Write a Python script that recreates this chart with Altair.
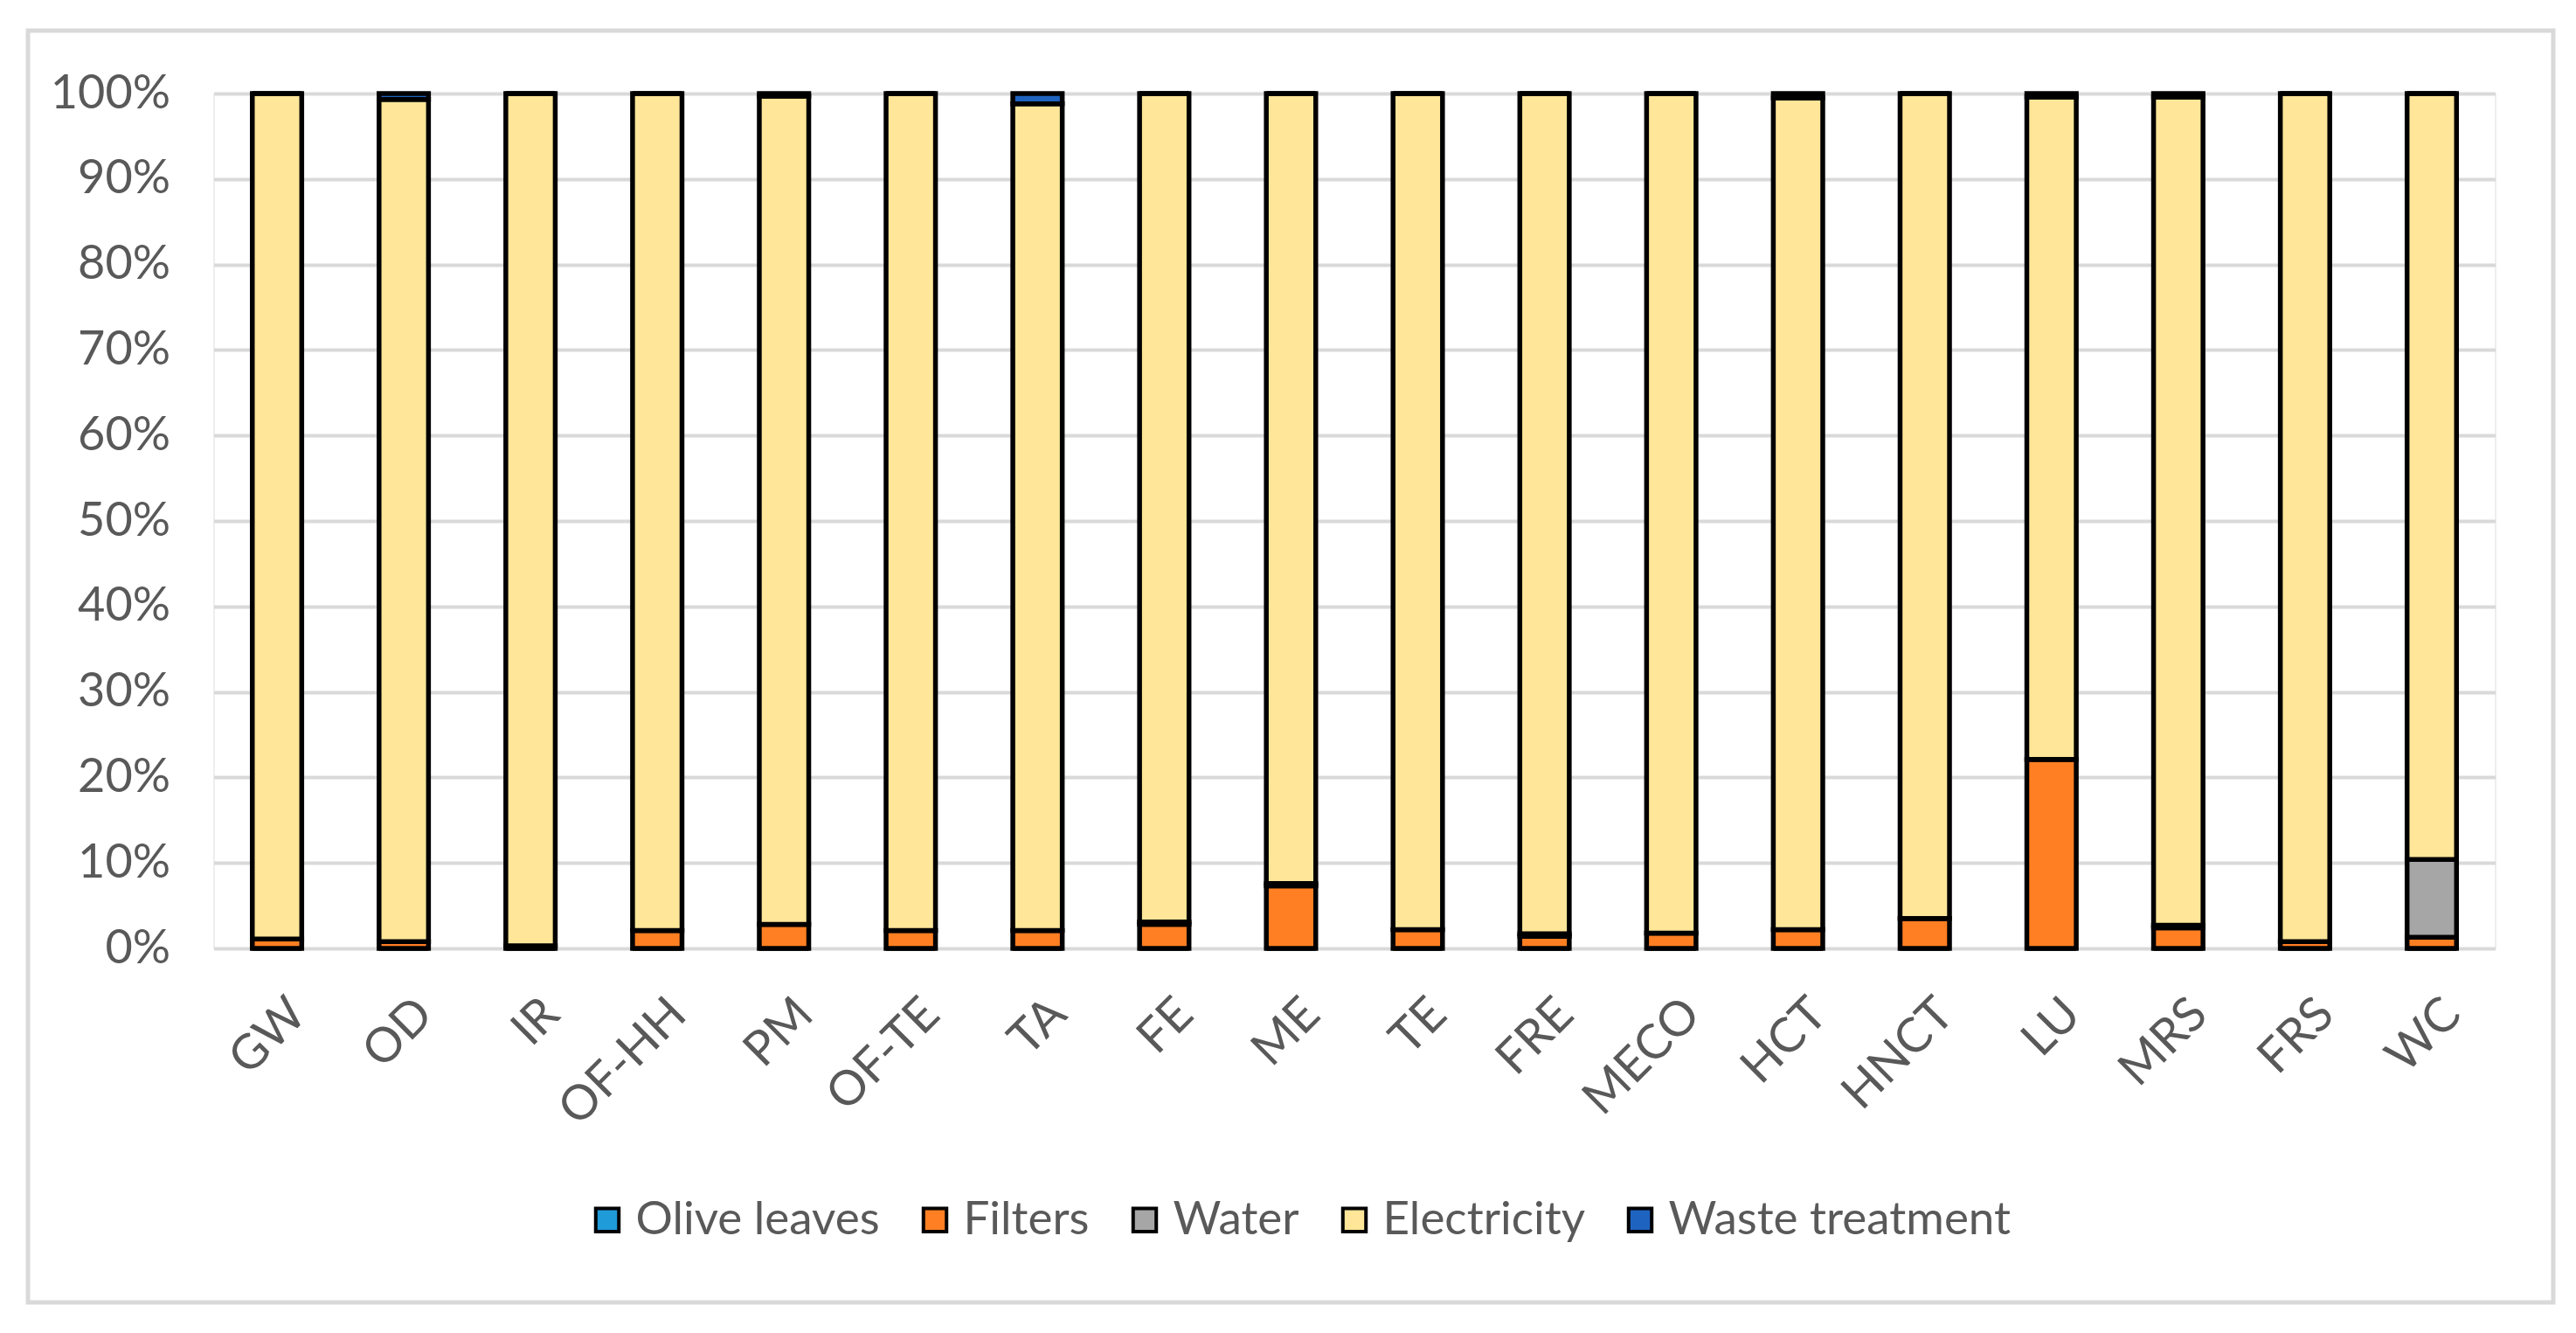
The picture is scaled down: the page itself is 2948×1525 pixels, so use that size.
import altair as alt
import pandas as pd

categories = ["GW", "OD", "IR", "OF-HH", "PM", "OF-TE", "TA", "FE", "ME",
              "TE", "FRE", "MECO", "HCT", "HNCT", "LU", "MRS", "FRS", "WC"]
series = ["Olive leaves", "Filters", "Water", "Electricity", "Waste treatment"]
colors = ["#1F9BD9", "#FF7F22", "#A6A6A6", "#FFE699", "#1F63C0"]

# shares in percent
olive_leaves = [0, 0, 0, 0, 0, 0, 0, 0, 0, 0, 0, 0, 0, 0, 0, 0, 0, 0]
filters = [1.1, 0.8, 0.3, 2.1, 2.8, 2.1, 2.1, 2.8, 7.3, 2.2, 1.4, 1.8, 2.2, 3.5, 22.1, 2.4, 0.8, 1.3]
water = [0, 0, 0, 0, 0, 0, 0, 0.3, 0.3, 0, 0.3, 0, 0, 0, 0, 0.3, 0, 9.1]
electricity = [98.9, 98.5, 99.7, 97.9, 96.9, 97.9, 96.7, 96.9, 92.4, 97.8, 98.3, 98.2, 97.3, 96.5, 77.5, 96.9, 99.2, 89.6]
waste_treatment = [0, 0.7, 0, 0, 0.3, 0, 1.2, 0, 0, 0, 0, 0, 0.5, 0, 0.4, 0.4, 0, 0]

values = [olive_leaves, filters, water, electricity, waste_treatment]
rows = []
for si, (name, vals) in enumerate(zip(series, values)):
    for c, v in zip(categories, vals):
        rows.append({"category": c, "series": name, "order": si, "share": v / 100.0})
df = pd.DataFrame(rows)

FONT = "Lato, sans-serif"
W, H = 2611, 978

bars = alt.Chart(df).mark_bar(stroke="black", strokeWidth=5.5).encode(
    x=alt.X("category:N", sort=categories, title=None,
            scale=alt.Scale(paddingInner=0.61, paddingOuter=0.305),
            axis=alt.Axis(labelAngle=-45, labelAlign="right", labelBaseline="middle",
                          labelPadding=66, labelOffset=24, ticks=False, domain=False,
                          grid=False, labelFont=FONT, labelFontSize=55,
                          labelColor="#595959", labelLimit=0)),
    y=alt.Y("share:Q", stack="zero", title=None,
            scale=alt.Scale(domain=[0, 1], nice=False),
            axis=alt.Axis(format=".0%", values=[i / 10 for i in range(11)],
                          ticks=False, domain=False, grid=True, gridColor="#D9D9D9",
                          gridWidth=4, labelPadding=50, labelFont=FONT,
                          labelFontSize=54, labelColor="#595959")),
    color=alt.Color("series:N", sort=series,
                    scale=alt.Scale(domain=series, range=colors),
                    legend=alt.Legend(title=None, orient="none", direction="horizontal",
                                      legendX=424, legendY=1262,
                                      symbolType="square", symbolSize=700,
                                      symbolStrokeColor="black", symbolStrokeWidth=4,
                                      labelFont=FONT, labelFontSize=53, labelColor="#595959",
                                      labelOffset=6, columnPadding=36, labelLimit=0)),
    order=alt.Order("order:Q"),
)

frame = alt.Chart(pd.DataFrame({"k": [0]})).mark_rect(
    fill=None, stroke="#D9D9D9", strokeWidth=5
).encode(x=alt.value(-212.5), x2=alt.value(2677.5), y=alt.value(-72), y2=alt.value(1383))

chart = alt.layer(frame, bars).properties(
    width=W, height=H,
    autosize=alt.AutoSizeParams(type="none"),
    padding={"left": 236.5, "top": 99, "right": 72, "bottom": 410},
).configure_view(stroke=None).configure(background="white")

chart.save("out.html", embed_options={"renderer": "svg", "actions": False})
